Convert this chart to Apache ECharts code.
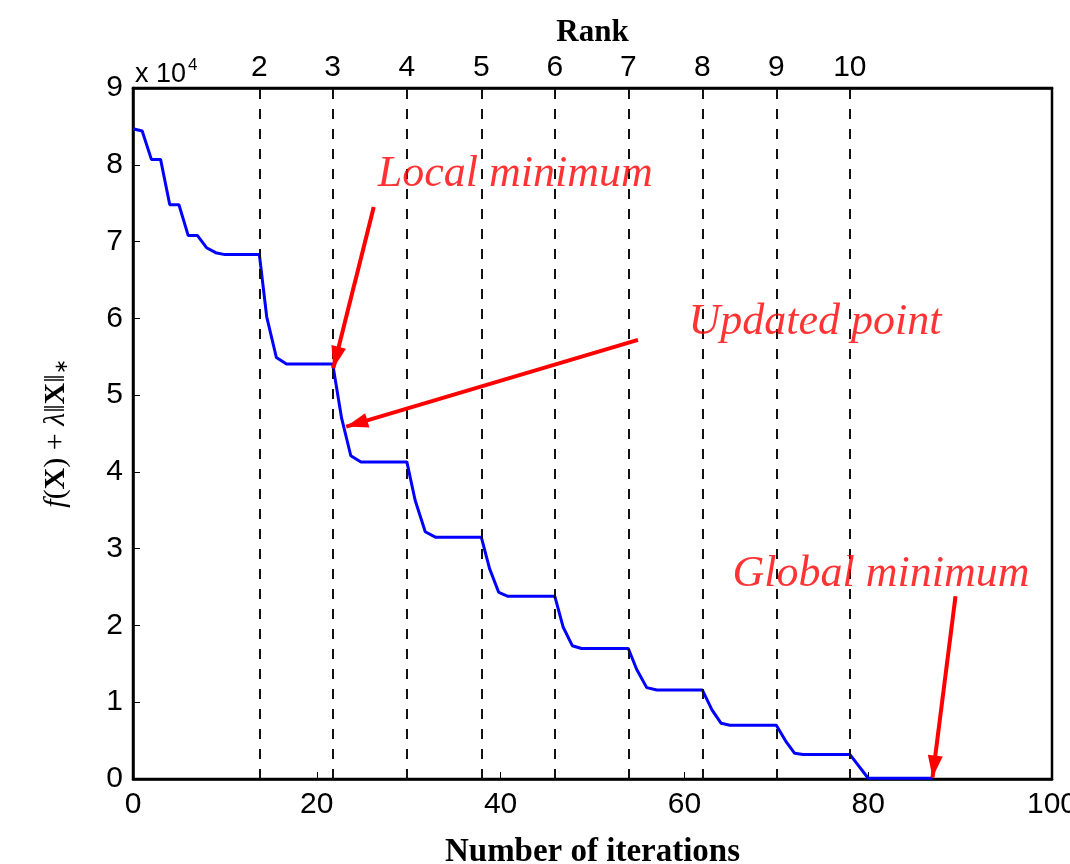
<!DOCTYPE html>
<html>
<head>
<meta charset="utf-8">
<script src="https://cdn.jsdelivr.net/npm/echarts@6/dist/echarts.min.js"></script>
<style>
  html, body { margin: 0; padding: 0; background: #fff; }
  #chart { width: 1070px; height: 864px; }
</style>
</head>
<body>
<div id="chart"></div>
<script>
// objective value (x 10^4) against iteration number
const iterations = [0, 1, 2, 3, 4, 5, 6, 7, 8, 9, 10, 13.75, 14.55, 15.6, 16.7, 21.73, 22.7, 23.7, 24.8, 29.8,
  30.7, 31.8, 32.9, 37.9, 38.8, 39.8, 40.8, 45.9, 46.8, 47.8, 48.8, 53.9, 54.8, 55.9, 57.0, 61.95,
  63.0, 64.0, 64.95, 70.0, 71.1, 72.0, 72.9, 78.0, 80.0, 87.0]
const objective = [8.47, 8.44, 8.07, 8.07, 7.48, 7.48, 7.08, 7.08, 6.92, 6.855, 6.83, 6.83, 6.02, 5.49, 5.405, 5.405,
  4.70, 4.21, 4.13, 4.13, 3.63, 3.22, 3.15, 3.15, 2.74, 2.43, 2.38, 2.38, 1.98, 1.736, 1.70, 1.70,
  1.43, 1.19, 1.16, 1.16, 0.90, 0.725, 0.70, 0.70, 0.48, 0.335, 0.32, 0.32, 0.01, 0.01]

// where the rank goes up (dashed lines + top axis)
const rankPositions = [13.75, 21.73, 29.8, 37.9, 45.9, 53.9, 61.95, 70.0, 78.0]
const rankLabels = ['2', '3', '4', '5', '6', '7', '8', '9', '10']

// annotations: text and arrows (tail -> head), in data units
const noteTexts = ['Local minimum', 'Updated point', 'Global minimum']
const notePos = [[41.6, 7.87], [74.2, 5.95], [81.4, 2.66]]
const arrowTails = [[26.2, 7.45], [54.95, 5.72], [89.5, 2.38]]
const arrowHeads = [[21.8, 5.35], [23.2, 4.59], [87.0, 0.02]]

let myChart = echarts.init(document.getElementById('chart'))

let lineData = iterations.map((x, i) => [x, objective[i]])
let noteData = notePos.map((p, i) => ({value: p, name: noteTexts[i]}))
let arrowData = arrowTails.map((t, i) => [{coord: t}, {coord: arrowHeads[i]}])

let tickFont = {fontFamily: 'Liberation Sans', fontSize: 30, color: '#000'}

let option = {
  backgroundColor: '#fff',
  animation: false,
  title: {
    text: '{a|x 10}{b|4}',
    left: 130,
    top: 52,
    textStyle: {
      fontWeight: 'normal',
      rich: {
        a: {fontFamily: 'Liberation Sans', fontWeight: 'normal', fontSize: 27, color: '#000', verticalAlign: 'bottom'},
        b: {fontFamily: 'Liberation Sans', fontWeight: 'normal', fontSize: 17, color: '#000', verticalAlign: 'top', padding: [0, 0, 14, 2]}
      }
    }
  },
  grid: {
    left: 133,
    right: 18,
    top: 88,
    bottom: 85,
    show: true,
    borderColor: '#000',
    borderWidth: 2.5,
    containLabel: false,
    outerBoundsMode: 'none'
  },
  xAxis: [
    {
      type: 'value',
      position: 'bottom',
      min: 0,
      max: 100,
      interval: 20,
      axisLine: {show: true, lineStyle: {color: '#000', width: 2.5}},
      axisTick: {show: true, inside: true, length: 7, lineStyle: {color: '#000', width: 1}},
      axisLabel: Object.assign({margin: 11}, tickFont),
      splitLine: {show: false},
      name: 'Number of iterations',
      nameLocation: 'middle',
      nameGap: 57,
      nameTextStyle: {fontFamily: 'Liberation Serif', fontWeight: 'bold', fontSize: 33, color: '#000'}
    },
    {
      type: 'value',
      position: 'top',
      min: 0,
      max: 100,
      axisLine: {show: true, lineStyle: {color: '#000', width: 2.5}},
      axisTick: {show: true, inside: true, length: 9, customValues: rankPositions, lineStyle: {color: '#000', width: 2}},
      axisLabel: Object.assign({
        margin: 5,
        customValues: rankPositions,
        formatter: v => rankLabels[rankPositions.indexOf(v)]
      }, tickFont),
      splitLine: {show: false},
      name: 'Rank',
      nameLocation: 'middle',
      nameGap: 33,
      nameTextStyle: {fontFamily: 'Liberation Serif', fontWeight: 'bold', fontSize: 31, color: '#000'}
    }
  ],
  yAxis: {
    type: 'value',
    min: 0,
    max: 9,
    interval: 1,
    axisLine: {show: true, lineStyle: {color: '#000', width: 2.5}},
    axisTick: {show: true, inside: true, length: 7, lineStyle: {color: '#000', width: 1}},
    axisLabel: Object.assign({margin: 10}, tickFont),
    splitLine: {show: false},
    name: '{i|f}{n|(}{b|X}{n|) + }{i|λ}{n|‖}{b|X}{n|‖}{s|∗}',
    nameLocation: 'middle',
    nameGap: 62,
    nameTextStyle: {
      color: '#000',
      rich: {
        i: {fontFamily: 'Liberation Serif', fontStyle: 'italic', fontSize: 30, color: '#000'},
        n: {fontFamily: 'Liberation Serif', fontSize: 30, color: '#000'},
        b: {fontFamily: 'Liberation Serif', fontWeight: 'bold', fontSize: 30, color: '#000'},
        s: {fontFamily: 'Liberation Serif', fontSize: 18, color: '#000', verticalAlign: 'bottom'}
      }
    }
  },
  series: [
    {
      name: 'objective',
      type: 'line',
      data: lineData,
      showSymbol: false,
      symbol: 'none',
      lineStyle: {color: '#0000ff', width: 3},
      itemStyle: {color: '#0000ff'},
      markLine: {
        silent: true,
        symbol: ['none', 'none'],
        label: {show: false},
        lineStyle: {color: '#111', width: 2, type: [10, 10]},
        data: rankPositions.map(x => ({xAxis: x}))
      },
      z: 3
    },
    {
      name: 'notes',
      type: 'scatter',
      data: noteData,
      symbolSize: 0,
      label: {
        show: true,
        position: 'inside',
        formatter: p => p.name,
        fontFamily: 'Liberation Serif',
        fontStyle: 'italic',
        fontSize: 44,
        color: '#ff0000'
      },
      markLine: {
        silent: true,
        symbol: ['none', 'triangle'],
        symbolSize: [15, 22],
        symbolOffset: [[0, 0], [0, 11]],
        label: {show: false},
        lineStyle: {color: '#ff0000', width: 4, type: 'solid'},
        itemStyle: {color: '#ff0000'},
        data: arrowData
      },
      z: 5
    }
  ]
}

myChart.setOption(option)
window.onresize = function () {
  myChart.resize()
}
</script>
</body>
</html>
